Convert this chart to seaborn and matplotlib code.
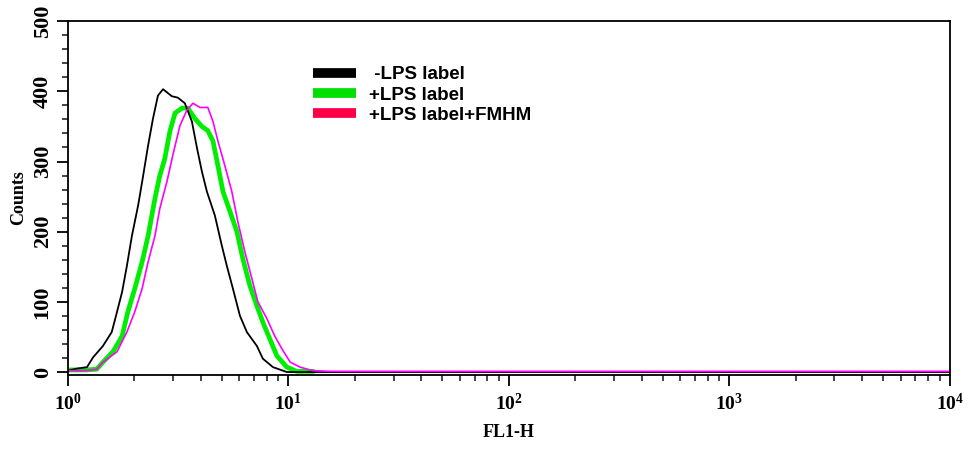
import matplotlib
matplotlib.use("Agg")
import matplotlib.pyplot as plt
import matplotlib.ticker as mticker
from matplotlib.lines import Line2D
import numpy as np
import pandas as pd
import seaborn as sns

# FL1-H intensity vs counts
neg_x = [1.00, 1.10, 1.22, 1.30, 1.44, 1.58, 1.67, 1.76, 1.85, 1.95, 2.08, 2.17, 2.31,
         2.43, 2.56, 2.70, 2.96, 3.15, 3.39, 3.65, 3.85, 4.05, 4.27, 4.64, 4.99, 5.26,
         5.60, 6.03, 6.48, 7.20, 7.66, 8.51, 9.84, 10000]
neg_y = [2, 5, 7, 21, 37, 57, 86, 114, 151, 194, 237, 271, 323,
         361, 394, 403, 393, 391, 383, 357, 319, 286, 257, 223, 180, 151,
         119, 80, 57, 37, 19, 7, 0, 0]

lps_x = [1.00, 1.20, 1.35, 1.44, 1.60, 1.76, 1.87, 2.01, 2.17, 2.31, 2.48, 2.61, 2.75,
         2.90, 3.06, 3.29, 3.50, 3.77, 4.05, 4.31, 4.55, 4.79, 5.05, 5.43, 5.84, 6.22,
         6.69, 7.20, 7.66, 8.24, 8.87, 9.84, 10.9, 13.0]
lps_y = [3, 3, 4, 14, 29, 51, 86, 119, 157, 194, 247, 280, 304,
         343, 369, 376, 376, 361, 350, 344, 329, 294, 257, 229, 200, 161,
         123, 94, 71, 47, 23, 7, 1, 1]

fmhm_x = [1.00, 1.20, 1.35, 1.44, 1.67, 1.85, 2.01, 2.17, 2.31, 2.48, 2.61, 2.81, 2.99,
          3.22, 3.46, 3.69, 3.97, 4.31, 4.55, 4.79, 5.15, 5.54, 5.90, 6.35, 6.83, 7.27,
          7.99, 8.68, 9.35, 10.2, 11.3, 12.9, 15.4, 10000]
fmhm_y = [2, 2, 4, 14, 29, 57, 86, 119, 157, 194, 233, 271, 309,
          351, 373, 383, 377, 377, 357, 329, 294, 257, 214, 171, 133, 100,
          76, 51, 33, 14, 7, 2, 1, 1]

labels = [" -LPS label", "+LPS label", "+LPS label+FMHM"]
line_colors = ["#000000", "#00ee00", "#ff00ff"]
legend_colors = ["#000000", "#00e000", "#ff0048"]
widths = [1.3, 3.4, 1.2]

df = pd.concat([
    pd.DataFrame({"FL1-H": neg_x, "Counts": neg_y, "sample": labels[0]}),
    pd.DataFrame({"FL1-H": lps_x, "Counts": lps_y, "sample": labels[1]}),
    pd.DataFrame({"FL1-H": fmhm_x, "Counts": fmhm_y, "sample": labels[2]}),
])

sns.set_style("ticks")
plt.rcParams["text.color"] = "black"
plt.rcParams["axes.labelcolor"] = "black"
plt.rcParams["mathtext.fontset"] = "custom"
plt.rcParams["mathtext.bf"] = "Liberation Serif:bold"
plt.rcParams["mathtext.rm"] = "Liberation Serif:bold"

fig = plt.figure(figsize=(9.71, 4.5), dpi=100)
ax = fig.add_axes([0.070, 0.167, 0.908, 0.786])

# thick green first, then black, then pink on top
for i in [1, 0, 2]:
    sub = df[df["sample"] == labels[i]]
    sns.lineplot(data=sub, x="FL1-H", y="Counts", ax=ax, color=line_colors[i],
                 linewidth=widths[i], sort=False, estimator=None, legend=False)

ax.set_xscale("log")
ax.set_xlim(1, 10000)
ax.set_ylim(-4, 500)
ax.xaxis.set_major_locator(mticker.LogLocator(base=10, numticks=10))
ax.xaxis.set_minor_locator(mticker.LogLocator(base=10, subs=np.arange(2, 10), numticks=20))
ax.xaxis.set_major_formatter(mticker.FuncFormatter(
    lambda v, p: r"$\mathbf{10^{%d}}$" % round(np.log10(v))))
ax.xaxis.set_minor_formatter(mticker.NullFormatter())
ax.yaxis.set_major_locator(mticker.MultipleLocator(100))
ax.yaxis.set_minor_locator(mticker.MultipleLocator(20))

for s in ax.spines.values():
    s.set_linewidth(1.3)
    s.set_color("black")

ax.tick_params(axis="both", which="major", direction="out", length=8, width=1.3,
               colors="black")
ax.tick_params(axis="x", which="major", labelsize=14, pad=5)
ax.tick_params(axis="y", which="major", labelsize=16, pad=3)
ax.tick_params(axis="both", which="minor", direction="out", length=4.5, width=1.2)
for t in ax.get_yticklabels():
    t.set_rotation(90)
    t.set_va("center")
    t.set_family("Liberation Serif")
    t.set_weight("bold")

ax.set_xlabel("FL1-H", fontsize=13, fontweight="bold", family="Liberation Serif",
              labelpad=7, color="black")
ax.set_ylabel("Counts", fontsize=13, fontweight="bold", family="Liberation Serif",
              labelpad=4, color="black")
ax.grid(False)

handles = [Line2D([], [], color=c, linewidth=7, solid_capstyle="butt")
           for c in legend_colors]
leg = ax.legend(handles, labels, loc="upper left", bbox_to_anchor=(0.259, 0.92),
                frameon=False, handlelength=2.3, handletextpad=0.7, labelspacing=0.16,
                prop={"family": "Liberation Sans", "weight": "bold", "size": 13.5},
                labelcolor="black")

fig.savefig("out.png", dpi=100, facecolor="white")
